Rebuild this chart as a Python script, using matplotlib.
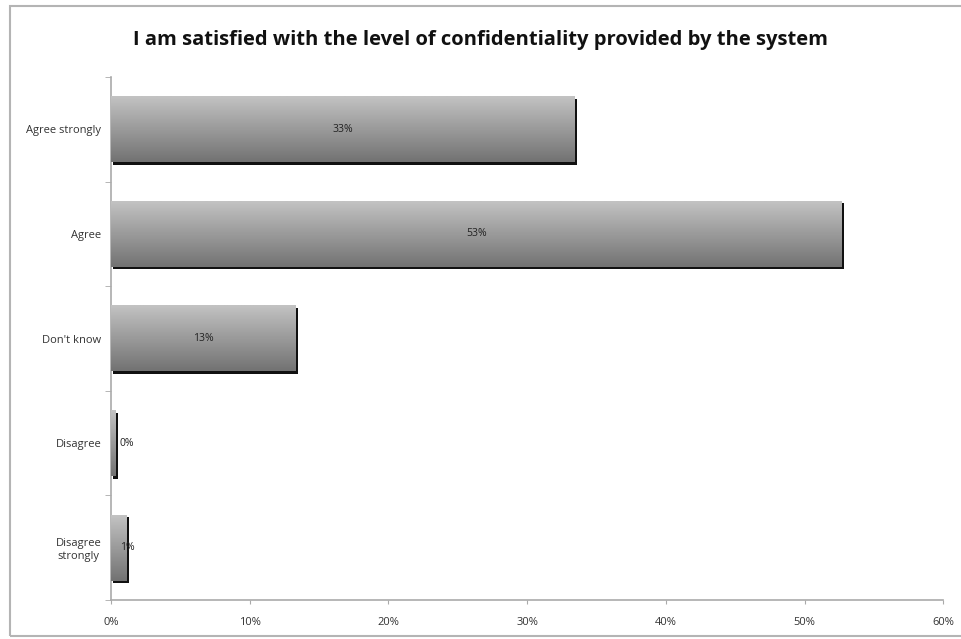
import numpy as np
import matplotlib.pyplot as plt
from matplotlib.transforms import offset_copy

# survey answers, top to bottom
categories = ['Agree strongly', 'Agree', "Don't know", 'Disagree', 'Disagree\nstrongly']
percent = [33.4, 52.7, 13.3, 0.3, 1.1]
xticks = [0, 10, 20, 30, 40, 50, 60]
title = 'I am satisfied with the level of confidentiality provided by the system'

plt.rcParams['font.family'] = ['Open Sans', 'DejaVu Sans']

fig = plt.figure(figsize=(9.61, 6.39), dpi=100)
ax = fig.add_axes([0.1155, 0.061, 0.866, 0.8185])

# light grey frame round the chart (runs off the right edge)
fig.patches.append(plt.Rectangle((0.0105, 0.004), 1.05, 0.987, transform=fig.transFigure,
                                 fill=False, edgecolor='#b4b4b4', linewidth=1.5))

n = len(categories)
ypos = np.arange(n)[::-1]
bar_h = 0.63

# vertical grey gradient, light on top, darker at the bottom
grad = np.linspace(0.76, 0.45, 64).reshape(-1, 1)

shadow_tr = offset_copy(ax.transData, fig=fig, x=2.5, y=-2.5, units='dots')
for y, v in zip(ypos, percent):
    ax.barh(y, v, height=bar_h, color='#111111', transform=shadow_tr, zorder=2)
    ax.imshow(grad, cmap='gray', vmin=0, vmax=1, aspect='auto', zorder=3,
              extent=[0, v, y - bar_h / 2, y + bar_h / 2], interpolation='bilinear')
    ax.text(max(v / 2, 1.15), y, f'{v:.0f}%', ha='center', va='center',
            fontsize=7.5, color='#222222', zorder=4)

ax.set_xlim(0, 60)
ax.set_ylim(-0.5, n - 0.5)
ax.set_xticks(xticks)
ax.set_xticklabels([f'{t}%' for t in xticks])
ax.set_yticks(ypos)
ax.set_yticklabels(categories, multialignment='center')
ax.set_yticks(np.arange(n + 1) - 0.5, minor=True)

ax.tick_params(axis='y', which='major', length=0, pad=7, labelsize=8, labelcolor='#333333')
ax.tick_params(axis='y', which='minor', length=4, color='#aaaaaa')
ax.tick_params(axis='x', length=3, color='#aaaaaa', pad=9, labelsize=8, labelcolor='#333333')

for side in ['top', 'right']:
    ax.spines[side].set_visible(False)
for side in ['left', 'bottom']:
    ax.spines[side].set_color('#aaaaaa')
    ax.spines[side].set_linewidth(1.2)

fig.text(0.5, 0.938, title, ha='center', va='center', fontsize=14.5, fontweight='bold',
         color='#111111')

fig.savefig('out.png', dpi=100)
